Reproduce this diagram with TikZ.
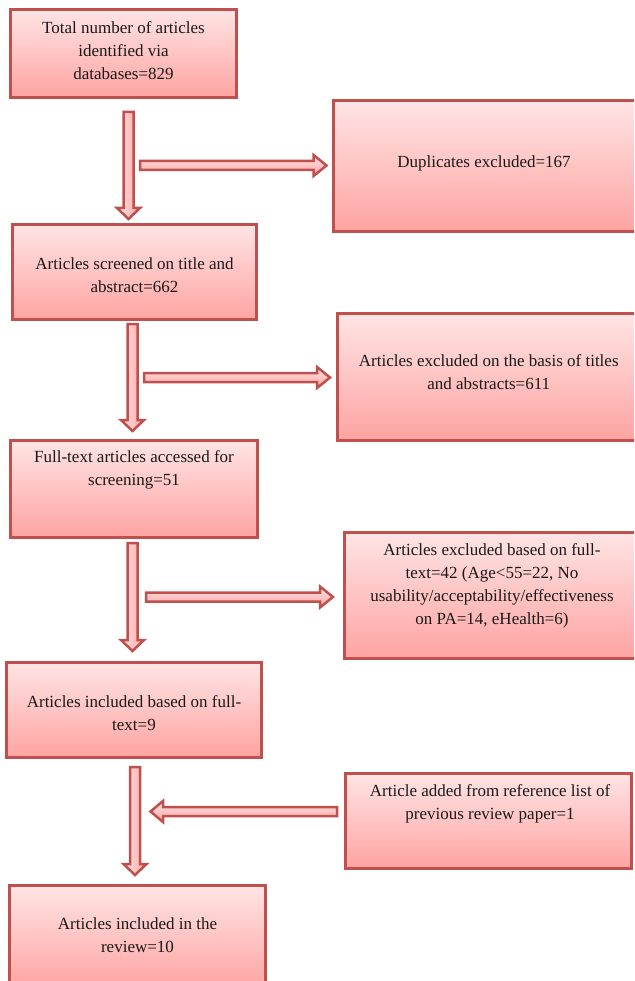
\documentclass[tikz,border=0pt]{standalone}
\usepackage{fontspec}
\setmainfont{Liberation Serif}
\definecolor{bord}{HTML}{C0504D}
\definecolor{gtop}{HTML}{FFE4E4}
\definecolor{gbot}{HTML}{FDA4A2}
\newcommand{\BArH}[4]{% y, xstart, xhead, xtip
  \draw[barrowh] (#2,#1-4.5) -- (#3,#1-4.5) -- (#3,#1-10.5) -- (#4,#1) -- (#3,#1+10.5) -- (#3,#1+4.5) -- (#2,#1+4.5) -- cycle;}
\newcommand{\BArV}[4]{% x, ystart, yhead, ytip
  \draw[barrowv] (#1-5,#2) -- (#1-5,#3) -- (#1-11.5,#3) -- (#1,#4) -- (#1+11.5,#3) -- (#1+5,#3) -- (#1+5,#2) -- cycle;}
\begin{document}
\begin{tikzpicture}[x=1pt,y=-1pt,
  boxnode/.style={draw=bord, line width=3pt, top color=gtop, bottom color=gbot, inner sep=0pt, outer sep=0pt},
  txt/.style={align=center, inner sep=0pt, text=black!90, font=\fontsize{17}{23}\selectfont},
  barrowh/.style={draw=bord, line width=2.5pt, line join=miter, top color=gtop, bottom color=gbot},
  barrowv/.style={draw=bord, line width=2.5pt, line join=miter, left color=gtop, right color=gbot}]
\useasboundingbox (0,0) rectangle (634,981);
\clip (0,0) rectangle (634,981);
% boxes
\node[boxnode, minimum width=226pt, minimum height=88pt] (b1) at (123.5,53.5) {};
\node[boxnode, minimum width=306.5pt, minimum height=131pt] (b2) at (486.75,166) {};
\node[boxnode, minimum width=244pt, minimum height=95pt] (b3) at (134.5,272) {};
\node[boxnode, minimum width=302.5pt, minimum height=127pt] (b4) at (488.75,377) {};
\node[boxnode, minimum width=247pt, minimum height=97pt] (b5) at (134,489) {};
\node[boxnode, minimum width=295.5pt, minimum height=126pt] (b6) at (492.25,595.5) {};
\node[boxnode, minimum width=255pt, minimum height=95pt] (b7) at (134,710) {};
\node[boxnode, minimum width=286pt, minimum height=95pt] (b8) at (488.5,821) {};
\node[boxnode, minimum width=256pt, minimum height=104pt] (b9) at (137.5,937.5) {};
% texts
\node[txt] (t1) at (123.5,50.3) {Total number of articles\\identified via\\databases=829};
\node[txt] (t2) at (484,163) {Duplicates excluded=167};
\node[txt] (t3) at (134.5,275.5) {Articles screened on title and\\abstract=662};
\node[txt] (t4) at (488.75,372.5) {Articles excluded on the basis of titles\\and abstracts=611};
\node[txt] (t5) at (134,470) {Full-text articles accessed for\\screening=51};
\node[txt] (t6) at (492,585.5) {Articles excluded based on full-\\text=42 (Age<55=22, No\\usability/acceptability/effectiveness\\on PA=14, eHealth=6)};
\node[txt] (t7) at (134,713) {Articles included based on full-\\text=9};
\node[txt] (t8) at (490,804) {Article added from reference list of\\previous review paper=1};
\node[txt] (t9) at (137.5,935) {Articles included in the\\review=10};
% block arrows
\BArV{128.5}{112}{208}{219}
\BArH{165.5}{140}{313.5}{326.5}
\BArV{132.5}{324}{420}{431}
\BArH{377.5}{144}{317}{330}
\BArV{132.5}{543}{640}{651}
\BArH{597}{146}{320}{333}
\BArV{135}{767}{864}{875}
\BArH{811.5}{337}{163}{150.5}
\end{tikzpicture}
\end{document}
